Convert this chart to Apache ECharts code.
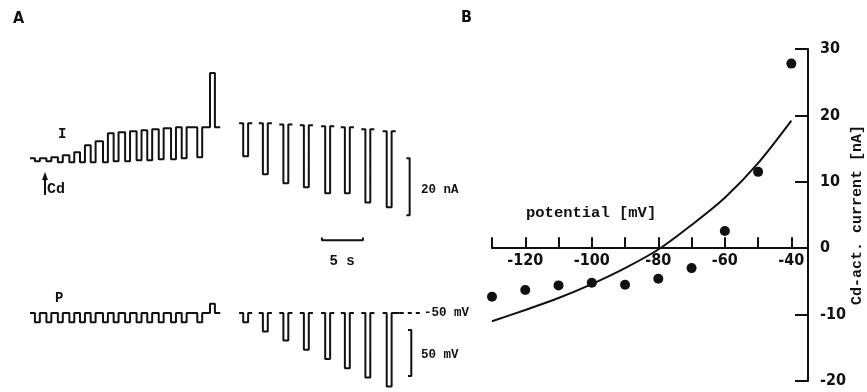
<!DOCTYPE html>
<html>
<head>
<meta charset="utf-8">
<script src="https://cdn.jsdelivr.net/npm/echarts@6/dist/echarts.min.js"></script>
<style>
    html, body { margin: 0; background: #fff; }
    #main { width: 867px; height: 392px; }
</style>
</head>
<body>
<div id="main"></div>
<script>
// A, first run: time [s], current [nA], potential [mV]
var onsets1 = [0.6, 2.0, 3.4, 4.8, 6.1, 7.4, 8.9, 10.2, 11.6, 13.0, 14.3, 15.7, 17.2, 18.5, 20.4, 21.95];
var hold1 = [0.6, 0.6, 1.0, 1.7, 2.7, 5.2, 6.6, 9.4, 9.7, 10.1, 10.4, 10.8, 11.1, 11.5, 11.5, 11.5];
var pulseI1 = [-0.4, -0.4, -0.8, -0.8, -0.8, -0.8, -0.8, -0.4, -0.4, -0.1, -0.1, 0.3, 0.3, 0.6, 1.0, 30.5];
var pulseV1 = [-60, -60, -60, -60, -60, -60, -60, -60, -60, -60, -60, -60, -60, -60, -60, -40];
var end1 = 23.2;

// A, second run
var onsets2 = [26.0, 28.4, 30.9, 33.4, 36.0, 38.4, 40.9, 43.5];
var hold2 = [12.9, 12.9, 12.5, 12.2, 11.8, 11.5, 10.8, 10.1];
var pulseI2 = [1.3, -5.0, -8.2, -9.6, -11.7, -11.7, -14.9, -16.6];
var pulseV2 = [-60, -70, -80, -90, -100, -110, -120, -130];
var holdV = -50;

// B
var potentials = [-130, -120, -110, -100, -90, -80, -70, -60, -50, -40];
var cdCurrent = [-7.3, -6.3, -5.6, -5.2, -5.5, -4.6, -3.0, 2.6, 11.5, 27.8];
var fitCurrent = [-11.0, -9.3, -7.5, -5.4, -3.0, -0.2, 3.5, 7.6, 12.8, 19.2];
var xLabels = [-120, -100, -80, -60, -40];
var yLabels = [-20, -10, 0, 10, 20, 30];

var dur = 0.6, stub = 0.5;
var ink = '#111';
var numFont = "'DejaVu Sans Condensed', 'Liberation Sans Narrow', 'DejaVu Sans', sans-serif";
var monoFont = "'Liberation Mono', 'DejaVu Sans Mono', monospace";

// continuous record with rectangular pulses
function runTrace(onsets, hold, level, t1) {
    var pts = [[0, hold[0]]];
    for (var i = 0; i < onsets.length; i++) {
        var t = onsets[i];
        var back = i + 1 < hold.length ? hold[i + 1] : hold[i];
        pts.push([t, hold[i]], [t, level[i]], [t + dur, level[i]], [t + dur, back]);
    }
    pts.push([t1, hold[hold.length - 1]]);
    return pts;
}

// single pulses with short baseline stubs, gaps in between
function pulseTrace(onsets, hold, level) {
    var pts = [];
    for (var i = 0; i < onsets.length; i++) {
        var t = onsets[i], h = Array.isArray(hold) ? hold[i] : hold;
        pts.push([t - stub, h], [t, h], [t, level[i]], [t + dur, level[i]],
            [t + dur, h], [t + dur + stub, h], [t + dur + stub, null]);
    }
    return pts;
}

var v1 = [];
for (var i = 0; i < pulseV1.length; i++) v1.push(holdV);
var pTail = [[onsets2[onsets2.length - 1] + dur, holdV], [45.1, holdV]];

function trace(name, grid, data, extra) {
    var s = {
        name: name, type: 'line', xAxisIndex: grid, yAxisIndex: grid,
        data: data, symbol: 'none', silent: true, connectNulls: false,
        lineStyle: { color: ink, width: 2 }
    };
    return Object.assign(s, extra || {});
}

var boldText = function (text, x, y, size, font, align) {
    return {
        type: 'text', silent: true,
        style: {
            text: text, x: x, y: y, fill: ink,
            font: 'bold ' + size + 'px ' + font,
            textAlign: align || 'left', textVerticalAlign: 'middle'
        }
    };
};

var myChart = echarts.init(document.getElementById('main'));
myChart.setOption({
    animation: false,
    backgroundColor: '#fff',
    grid: [
        { left: 30, top: 60.25, width: 410, height: 185.25, outerBoundsMode: 'none' },
        { left: 30, top: 294.6, width: 410, height: 96.6, outerBoundsMode: 'none' },
        { left: 492, top: 49, width: 316, height: 332, outerBoundsMode: 'none' },
        // upper half of B, its bottom edge sits on 0 nA and carries the potential axis
        { left: 492, top: 49, width: 316, height: 199.2, outerBoundsMode: 'none' }
    ],
    xAxis: [
        { gridIndex: 0, type: 'value', min: 0, max: 50, show: false },
        { gridIndex: 1, type: 'value', min: 0, max: 50, show: false },
        { gridIndex: 2, type: 'value', min: -130, max: -35, show: false },
        {
            gridIndex: 3, type: 'value', min: -130, max: -35, interval: 10,
            axisLine: { onZero: false, lineStyle: { color: ink, width: 2 } },
            axisTick: { inside: true, length: 11, lineStyle: { color: ink, width: 2 } },
            axisLabel: {
                margin: 5, color: ink, fontWeight: 'bold', fontSize: 16, fontFamily: numFont,
                formatter: function (v) { return xLabels.indexOf(v) >= 0 ? String(v) : ''; }
            },
            splitLine: { show: false }
        }
    ],
    yAxis: [
        { gridIndex: 0, type: 'value', min: -30, max: 35, show: false },
        { gridIndex: 1, type: 'value', min: -135, max: -30, show: false },
        {
            gridIndex: 2, type: 'value', position: 'right', min: -20, max: 30, interval: 10,
            axisLine: { onZero: false, lineStyle: { color: ink, width: 2 } },
            axisTick: { inside: true, length: 13, lineStyle: { color: ink, width: 2 } },
            axisLabel: {
                margin: 12, color: ink, fontWeight: 'bold', fontSize: 16, fontFamily: numFont,
                formatter: function (v) { return yLabels.indexOf(v) >= 0 ? String(v) : ''; }
            },
            splitLine: { show: false },
            name: 'Cd-act. current [nA]', nameLocation: 'middle', nameGap: 41,
            nameTextStyle: { color: ink, fontWeight: 'bold', fontSize: 15, fontFamily: monoFont }
        },
        { gridIndex: 3, type: 'value', min: 0, max: 30, show: false }
    ],
    series: [
        trace('I run 1', 0, runTrace(onsets1, hold1, pulseI1, end1)),
        trace('I run 2', 0, pulseTrace(onsets2, hold2, pulseI2)),
        trace('P run 1', 1, runTrace(onsets1, v1, pulseV1, end1)),
        trace('P run 2', 1, pulseTrace(onsets2, holdV, pulseV2).concat(pTail)),
        trace('P hold', 1, [[45.1, holdV], [47.6, holdV]], { lineStyle: { color: ink, width: 2, type: [4, 4] } }),
        // scale bars
        trace('20 nA', 0, [[45.9, 0.6], [46.3, 0.6], [46.3, -19.4], [45.9, -19.4]]),
        trace('5 s', 0, [[35.6, -27.2], [35.6, -28.2], [40.6, -28.2], [40.6, -27.2]]),
        trace('50 mV', 1, [[46.1, -68.5], [46.5, -68.5], [46.5, -118.5], [46.1, -118.5]]),
        // B
        trace('fit', 2, potentials.map(function (p, i) { return [p, fitCurrent[i]]; }), { smooth: 0.3 }),
        {
            name: 'Cd-act.', type: 'scatter', xAxisIndex: 2, yAxisIndex: 2, silent: true,
            symbolSize: 10, itemStyle: { color: ink, opacity: 1 },
            data: potentials.map(function (p, i) { return [p, cdCurrent[i]]; })
        }
    ],
    graphic: [
        boldText('A', 13, 19, 16, numFont),
        boldText('B', 461, 18, 16, numFont),
        boldText('I', 58, 134, 14, monoFont),
        boldText('Cd', 47, 189, 15, monoFont),
        { type: 'polyline', silent: true, shape: { points: [[45, 195], [45, 177]] }, style: { stroke: ink, lineWidth: 2 } },
        { type: 'polygon', silent: true, shape: { points: [[42, 180], [45, 172], [48, 180]] }, style: { fill: ink } },
        boldText('P', 55, 298, 14, monoFont),
        boldText('20 nA', 421, 190, 12.5, monoFont),
        boldText('5 s', 342, 261, 14, monoFont, 'center'),
        boldText('-50 mV', 424, 313, 12.5, monoFont),
        boldText('50 mV', 421, 355, 12.5, monoFont),
        boldText('potential [mV]', 526, 213, 15.5, monoFont)
    ]
});
</script>
</body>
</html>
